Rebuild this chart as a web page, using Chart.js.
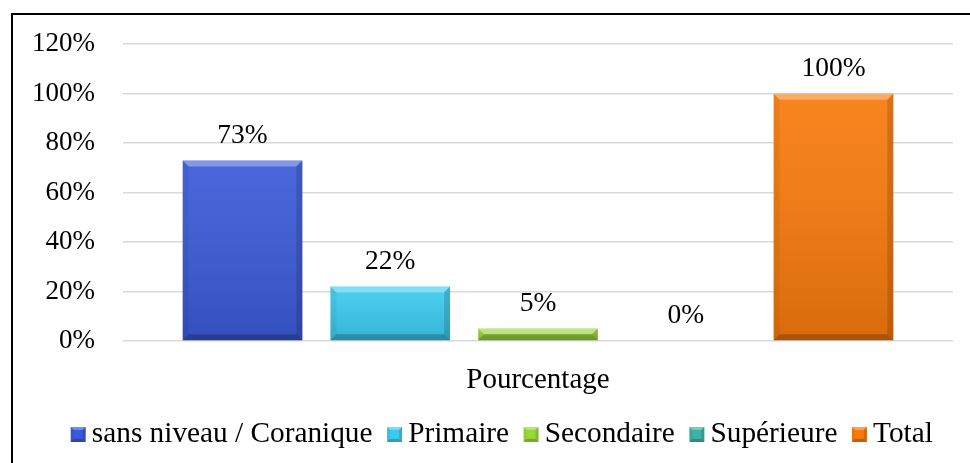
<!DOCTYPE html>
<html>
<head>
<meta charset="utf-8">
<script src="https://cdn.jsdelivr.net/npm/chart.js@4/dist/chart.umd.min.js"></script>
<style>
  html, body { margin: 0; padding: 0; background: #fff; overflow: hidden; }
  #wrap { position: relative; width: 970px; height: 463px; }
  #frame { position: absolute; left: 11px; top: 13px; width: 1000px; height: 500px; border: 2px solid #000; pointer-events: none; }
  canvas { position: absolute; left: 0; top: 0; }
</style>
</head>
<body>
<div id="wrap">
  <canvas id="myChart" width="970" height="463"></canvas>
  <div id="frame"></div>
</div>
<script>
var categories = ["Pourcentage"];
var seriesNames = ["sans niveau / Coranique", "Primaire", "Secondaire", "Supérieure", "Total"];
var seriesValues = [73, 22, 5, 0, 100];
var seriesColors = ["#3a5ad8", "#3ccbef", "#9ad83a", "#3db3a2", "#f77a0c"];
var yMax = 120;
var yStep = 20;

var FONT = "'Liberation Serif', 'Times New Roman', serif";

// bevelled square for the legend, sitting in the right part of a wider transparent canvas
function makeSwatch(color) {
  var c = document.createElement("canvas");
  c.width = 40; c.height = 15;
  var g = c.getContext("2d");
  g.fillStyle = color; g.fillRect(24, 0, 15, 15);
  bevel(g, 24, 0, 39, 15, 3);
  return c;
}

function bevel(g, left, top, right, bottom, b) {
  g.save();
  g.fillStyle = "rgba(255,255,255,0.32)";
  g.beginPath(); g.moveTo(left, top); g.lineTo(right, top); g.lineTo(right - b, top + b); g.lineTo(left + b, top + b); g.closePath(); g.fill();
  g.fillStyle = "rgba(0,0,0,0.22)";
  g.beginPath(); g.moveTo(left, bottom); g.lineTo(right, bottom); g.lineTo(right - b, bottom - b); g.lineTo(left + b, bottom - b); g.closePath(); g.fill();
  g.fillStyle = "rgba(0,0,0,0.05)";
  g.beginPath(); g.moveTo(left, top); g.lineTo(left + b, top + b); g.lineTo(left + b, bottom - b); g.lineTo(left, bottom); g.closePath(); g.fill();
  g.fillStyle = "rgba(0,0,0,0.14)";
  g.beginPath(); g.moveTo(right, top); g.lineTo(right - b, top + b); g.lineTo(right - b, bottom - b); g.lineTo(right, bottom); g.closePath(); g.fill();
  g.restore();
}

var barStyle = {
  id: "barStyle",
  afterLayout: function (chart) {
    // legend is centred on the whole frame, not on the plot
    chart.legend.left += 8;
    chart.legend.right += 8;
  },
  afterDatasetsDraw: function (chart) {
    var ctx = chart.ctx;
    chart.data.datasets.forEach(function (ds, i) {
      chart.getDatasetMeta(i).data.forEach(function (bar, j) {
        var left = bar.x - bar.width / 2, right = bar.x + bar.width / 2;
        var top = bar.y, bottom = bar.base;
        var h = bottom - top;
        if (h >= 1) {
          var gr = ctx.createLinearGradient(0, top, 0, bottom);
          gr.addColorStop(0, "rgba(255,255,255,0.08)");
          gr.addColorStop(1, "rgba(0,0,0,0.12)");
          ctx.fillStyle = gr;
          ctx.fillRect(left, top, right - left, h);
          bevel(ctx, left, top, right, bottom, Math.min(6, h / 2));
        }
        ctx.save();
        ctx.fillStyle = "#000";
        ctx.font = "27.5px " + FONT;
        ctx.textAlign = "center";
        ctx.textBaseline = "bottom";
        ctx.fillText(ds.data[j] + "%", bar.x, top - 11);
        ctx.restore();
      });
    });
  }
};

var datasets = seriesNames.map(function (name, i) {
  return {
    label: name,
    data: [seriesValues[i]],
    backgroundColor: seriesColors[i],
    borderWidth: 0,
    categoryPercentage: 0.89,
    barPercentage: 0.81
  };
});

window.onload = function () {
  var ctx = document.getElementById("myChart").getContext("2d");
  var swatches = seriesColors.map(makeSwatch);
  new Chart(ctx, {
    type: "bar",
    data: { labels: categories, datasets: datasets },
    plugins: [barStyle],
    options: {
      responsive: false,
      animation: false,
      layout: { padding: { left: 20, right: 17, top: 28, bottom: 4 } },
      plugins: {
        tooltip: { enabled: false },
        legend: {
          position: "bottom",
          labels: {
            font: { family: FONT, size: 29.3 },
            color: "#000",
            usePointStyle: true,
            pointStyleWidth: 21,
            padding: 0,
            generateLabels: function (chart) {
              return chart.data.datasets.map(function (ds, i) {
                return { text: ds.label, pointStyle: swatches[i], fillStyle: seriesColors[i], strokeStyle: "transparent", lineWidth: 0, hidden: false, datasetIndex: i };
              });
            }
          }
        }
      },
      scales: {
        x: {
          grid: { display: false, drawTicks: false },
          border: { display: false },
          ticks: { font: { family: FONT, size: 29 }, color: "#000", padding: 22 }
        },
        y: {
          min: 0,
          max: yMax,
          afterFit: function (scale) { scale.width = 103; },
          grid: { color: "#d9d9d9", lineWidth: 1.5, drawTicks: false },
          border: { display: false },
          ticks: {
            stepSize: yStep,
            padding: 28,
            font: { family: FONT, size: 27 },
            color: "#000",
            callback: function (v) { return v + "%"; }
          }
        }
      }
    }
  });
};
</script>
</body>
</html>
